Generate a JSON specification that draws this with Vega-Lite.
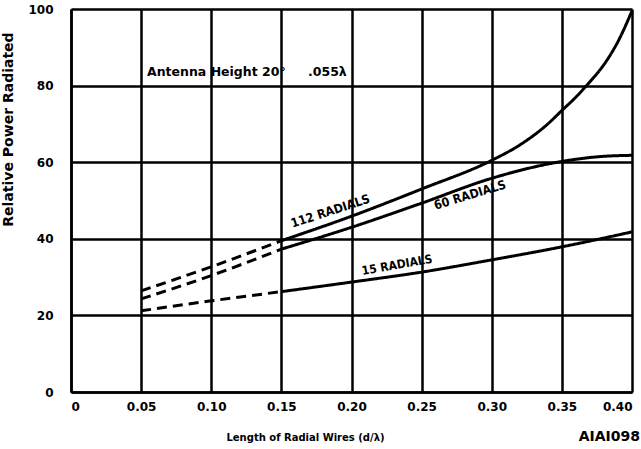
{
  "$schema": "https://vega.github.io/schema/vega-lite/v6.json",
  "autosize": "none",
  "width": 561,
  "height": 383,
  "padding": {"left": 71, "top": 9, "right": 9, "bottom": 57},
  "background": "white",
  "config": {
    "view": {"stroke": null},
    "font": "DejaVu Sans",
    "axis": {
      "grid": true,
      "gridColor": "black",
      "gridWidth": 2.5,
      "gridOpacity": 1,
      "domainColor": "black",
      "domainWidth": 2.5,
      "ticks": false,
      "labelFont": "DejaVu Sans",
      "labelFontWeight": "bold",
      "labelFontSize": 12,
      "labelColor": "black",
      "titleFont": "DejaVu Sans",
      "titleFontWeight": "bold",
      "titleColor": "black"
    }
  },
  "datasets": {
    "curves": [
      {"series": "112 radials", "part": "dashed", "x": 0.05, "y": 26.4},
      {"series": "112 radials", "part": "dashed", "x": 0.10, "y": 32.7},
      {"series": "112 radials", "part": "dashed", "x": 0.15, "y": 39.5},
      {"series": "112 radials", "part": "solid", "x": 0.15, "y": 39.5},
      {"series": "112 radials", "part": "solid", "x": 0.20, "y": 45.9},
      {"series": "112 radials", "part": "solid", "x": 0.25, "y": 53.0},
      {"series": "112 radials", "part": "solid", "x": 0.30, "y": 60.5},
      {"series": "112 radials", "part": "solid", "x": 0.32, "y": 64.5},
      {"series": "112 radials", "part": "solid", "x": 0.34, "y": 70.0},
      {"series": "112 radials", "part": "solid", "x": 0.35, "y": 73.5},
      {"series": "112 radials", "part": "solid", "x": 0.36, "y": 77.0},
      {"series": "112 radials", "part": "solid", "x": 0.37, "y": 81.0},
      {"series": "112 radials", "part": "solid", "x": 0.38, "y": 85.5},
      {"series": "112 radials", "part": "solid", "x": 0.39, "y": 91.5},
      {"series": "112 radials", "part": "solid", "x": 0.40, "y": 99.5},
      {"series": "60 radials", "part": "dashed", "x": 0.05, "y": 24.3},
      {"series": "60 radials", "part": "dashed", "x": 0.10, "y": 30.4},
      {"series": "60 radials", "part": "dashed", "x": 0.15, "y": 37.3},
      {"series": "60 radials", "part": "solid", "x": 0.15, "y": 37.3},
      {"series": "60 radials", "part": "solid", "x": 0.20, "y": 43.0},
      {"series": "60 radials", "part": "solid", "x": 0.25, "y": 49.3},
      {"series": "60 radials", "part": "solid", "x": 0.30, "y": 55.8},
      {"series": "60 radials", "part": "solid", "x": 0.35, "y": 60.2},
      {"series": "60 radials", "part": "solid", "x": 0.375, "y": 61.4},
      {"series": "60 radials", "part": "solid", "x": 0.40, "y": 61.8},
      {"series": "15 radials", "part": "dashed", "x": 0.05, "y": 21.2},
      {"series": "15 radials", "part": "dashed", "x": 0.10, "y": 23.8},
      {"series": "15 radials", "part": "dashed", "x": 0.15, "y": 26.2},
      {"series": "15 radials", "part": "solid", "x": 0.15, "y": 26.2},
      {"series": "15 radials", "part": "solid", "x": 0.20, "y": 28.7},
      {"series": "15 radials", "part": "solid", "x": 0.25, "y": 31.3},
      {"series": "15 radials", "part": "solid", "x": 0.30, "y": 34.5},
      {"series": "15 radials", "part": "solid", "x": 0.35, "y": 37.9},
      {"series": "15 radials", "part": "solid", "x": 0.40, "y": 41.8}
    ]
  },
  "layer": [
    {
      "data": {"name": "curves"},
      "mark": {"type": "line", "color": "black", "strokeWidth": 3, "interpolate": "monotone"},
      "encoding": {
        "x": {
          "field": "x", "type": "quantitative",
          "scale": {"domain": [0, 0.4], "nice": false},
          "axis": {
            "values": [0, 0.05, 0.1, 0.15, 0.2, 0.25, 0.3, 0.35, 0.4],
            "labelExpr": "datum.value == 0 ? '0' : format(datum.value, '.2f')",
            "labelFlush": true,
            "labelPadding": 9,
            "title": "Length of Radial Wires (d/λ)",
            "titleFontSize": 10,
            "titleX": 234,
            "titleY": 40,
            "titleAlign": "center"
          }
        },
        "y": {
          "field": "y", "type": "quantitative",
          "scale": {"domain": [0, 100], "nice": false},
          "axis": {
            "values": [0, 20, 40, 60, 80, 100],
            "labelPadding": 18,
            "title": "Relative Power Radiated",
            "titleFontSize": 14,
            "titleX": -56,
            "titleY": 120,
            "titleAlign": "center",
            "titleAngle": 270
          }
        },
        "detail": [{"field": "series"}, {"field": "part"}],
        "strokeDash": {
          "field": "part", "type": "nominal",
          "scale": {"domain": ["dashed", "solid"], "range": [[10, 6], [1, 0]]},
          "legend": null
        }
      }
    },
    {
      "data": {"values": [{"x": 0.185, "y": 47.2, "label": "112 RADIALS"}]},
      "mark": {"type": "text", "angle": 342, "fontWeight": "bold", "fontSize": 12.5, "font": "DejaVu Sans Condensed", "color": "black"},
      "encoding": {"x": {"field": "x", "type": "quantitative"}, "y": {"field": "y", "type": "quantitative"}, "text": {"field": "label"}}
    },
    {
      "data": {"values": [{"x": 0.2845, "y": 51.4, "label": "60 RADIALS"}]},
      "mark": {"type": "text", "angle": 343, "fontWeight": "bold", "fontSize": 12.5, "font": "DejaVu Sans Condensed", "color": "black"},
      "encoding": {"x": {"field": "x", "type": "quantitative"}, "y": {"field": "y", "type": "quantitative"}, "text": {"field": "label"}}
    },
    {
      "data": {"values": [{"x": 0.2325, "y": 33.2, "label": "15 RADIALS"}]},
      "mark": {"type": "text", "angle": 350, "fontWeight": "bold", "fontSize": 12, "font": "DejaVu Sans Condensed", "color": "black"},
      "encoding": {"x": {"field": "x", "type": "quantitative"}, "y": {"field": "y", "type": "quantitative"}, "text": {"field": "label"}}
    },
    {
      "data": {"values": [{"x": 0.0542, "y": 83.5, "label": "Antenna Height 20°"}, {"x": 0.169, "y": 83.5, "label": ".055λ"}]},
      "mark": {"type": "text", "align": "left", "baseline": "middle", "fontWeight": "bold", "fontSize": 12.5, "font": "DejaVu Sans", "color": "black"},
      "encoding": {"x": {"field": "x", "type": "quantitative"}, "y": {"field": "y", "type": "quantitative"}, "text": {"field": "label"}}
    },
    {
      "data": {"values": [{"x": 0.4057, "y": -11.7, "label": "AIAI098"}]},
      "mark": {"type": "text", "align": "right", "baseline": "middle", "fontWeight": "bold", "fontSize": 14, "font": "DejaVu Sans", "color": "black"},
      "encoding": {"x": {"field": "x", "type": "quantitative"}, "y": {"field": "y", "type": "quantitative"}, "text": {"field": "label"}}
    }
  ]
}
